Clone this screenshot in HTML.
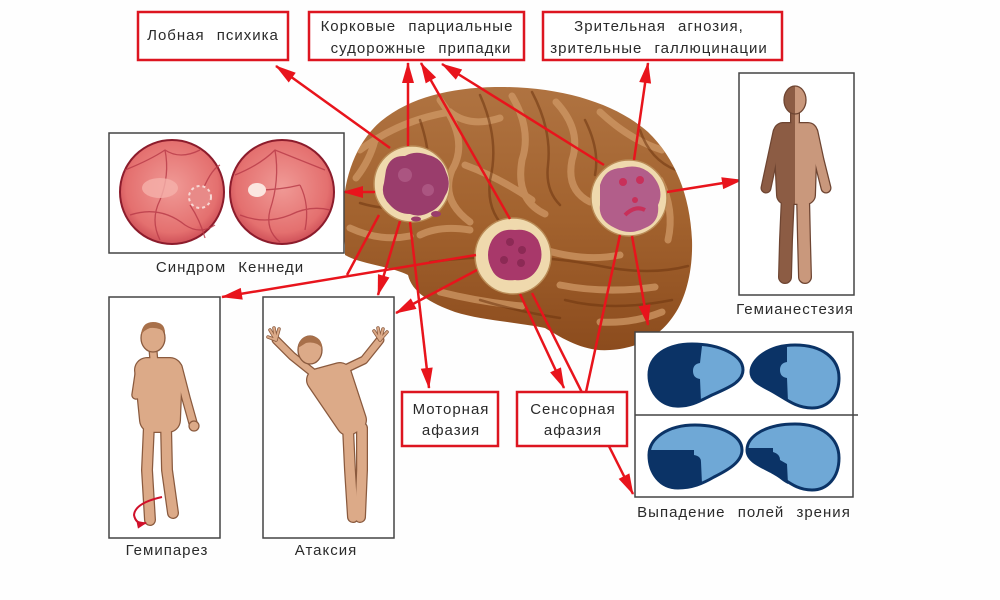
<!DOCTYPE html>
<html><head><meta charset="utf-8"><style>
html,body{margin:0;padding:0;background:#fff;}
svg{display:block;}
text{font-family:"Liberation Sans","DejaVu Sans",sans-serif;font-size:15px;fill:#2a2a2a;letter-spacing:1px;word-spacing:7px;}
</style></head><body>
<svg width="1000" height="600" viewBox="0 0 1000 600" xmlns="http://www.w3.org/2000/svg">
<defs>
<marker id="ah" markerUnits="userSpaceOnUse" markerWidth="21" markerHeight="13" refX="20" refY="6.5" orient="auto" style="overflow:visible"><path d="M0,0.5 L21,6.5 L0,12.5 Z" fill="#e8141c"/></marker>
<marker id="ahs" markerUnits="userSpaceOnUse" markerWidth="10" markerHeight="8" refX="9" refY="4" orient="auto" style="overflow:visible"><path d="M0,0 L10,4 L0,8 Z" fill="#d0102a"/></marker>
<linearGradient id="bgr" x1="0" y1="0" x2="0" y2="1">
<stop offset="0" stop-color="#b07442"/><stop offset="0.5" stop-color="#a2622e"/><stop offset="1" stop-color="#8a4a1c"/>
</linearGradient>
<clipPath id="bc"><path d="M345,245 C338,200 348,150 380,122 C410,97 450,88 495,87 C560,86 615,103 648,132 C675,158 690,195 692,240 C693,270 686,300 672,318 C660,335 640,348 610,350 C585,352 565,340 545,328 C515,322 480,320 455,312 C430,303 412,292 408,275 C390,266 360,264 345,255 Z"/></clipPath>
<radialGradient id="fg" cx="0.5" cy="0.45" r="0.55"><stop offset="0" stop-color="#f09a96"/><stop offset="0.8" stop-color="#e4706f"/><stop offset="1" stop-color="#cf5058"/></radialGradient>
<clipPath id="lh"><rect x="700" y="70" width="95" height="230"/></clipPath>
<clipPath id="rh"><rect x="795" y="70" width="95" height="230"/></clipPath>
</defs>

<rect width="1000" height="600" fill="#fefefe"/>

<!-- Brain -->
<g clip-path="url(#bc)">
<rect x="330" y="80" width="370" height="280" fill="url(#bgr)"/>
<g fill="none" stroke="#cf9866" stroke-width="7" stroke-linecap="round" opacity="0.75">
<path d="M360,150 Q400,120 450,112 Q470,128 500,118"/>
<path d="M440,100 Q470,140 452,170 Q440,200 470,222"/>
<path d="M512,96 Q532,130 522,160 Q515,200 545,214"/>
<path d="M556,102 Q582,130 572,160 Q566,190 590,202"/>
<path d="M600,112 Q630,140 662,150"/>
<path d="M350,228 Q380,242 410,236"/>
<path d="M356,178 Q370,160 375,140"/>
<path d="M465,165 Q500,178 532,200"/>
<path d="M545,250 Q585,262 620,255"/>
<path d="M560,285 Q605,294 655,287"/>
<path d="M440,292 Q480,302 522,306"/>
<path d="M600,322 Q632,324 662,312"/>
<path d="M660,180 Q675,210 668,240"/>
<path d="M420,235 Q440,225 470,230"/>
</g>
<g fill="none" stroke="#6e3510" stroke-width="2.5" stroke-linecap="round" opacity="0.55">
<path d="M480,95 Q500,140 490,180 Q485,220 520,238"/>
<path d="M532,92 Q552,130 548,165 Q545,190 560,205"/>
<path d="M360,203 Q390,212 420,206"/>
<path d="M430,262 Q520,250 600,266 Q650,276 688,266"/>
<path d="M565,300 Q612,312 672,300"/>
<path d="M585,120 Q600,150 595,175"/>
<path d="M420,120 Q430,150 428,170"/>
<path d="M480,300 Q520,312 560,318"/>
<path d="M640,130 Q650,160 676,170"/>
</g>
</g>

<!-- Tumor circles -->
<circle cx="412" cy="184" r="38" fill="#efd9ad" stroke="#b98a55" stroke-width="1.5"/>
<path d="M386,170 Q390,155 405,156 Q415,150 428,155 Q442,158 446,172 Q452,185 445,196 Q440,208 430,212 Q420,218 410,214 Q398,214 390,205 Q380,195 384,183 Z" fill="#9a3d6c"/>
<circle cx="405" cy="175" r="7" fill="#b2608a" opacity="0.7"/><circle cx="428" cy="190" r="6" fill="#b2608a" opacity="0.7"/>
<ellipse cx="436" cy="214" rx="5" ry="3" fill="#9a3d6c"/><ellipse cx="416" cy="219" rx="5" ry="2.5" fill="#9a3d6c"/>

<circle cx="513" cy="256" r="38" fill="#efd9ad" stroke="#b98a55" stroke-width="1.5"/>
<path d="M492,240 Q500,228 515,230 Q530,228 538,240 Q545,255 538,268 Q530,282 515,280 Q498,282 492,270 Q484,255 492,240 Z" fill="#a8386a"/>
<circle cx="510" cy="242" r="4" fill="#8c2a55"/><circle cx="522" cy="250" r="4" fill="#8c2a55"/><circle cx="504" cy="260" r="4" fill="#8c2a55"/><circle cx="521" cy="263" r="4" fill="#8c2a55"/>

<circle cx="629" cy="198" r="38" fill="#efd9ad" stroke="#b98a55" stroke-width="1.5"/>
<path d="M600,185 Q605,168 622,168 Q640,163 652,175 Q665,190 658,205 Q660,222 645,228 Q630,236 615,228 Q598,220 600,205 Z" fill="#b25e8a"/>
<circle cx="623" cy="182" r="4" fill="#c8305a"/><circle cx="640" cy="180" r="4" fill="#c8305a"/><circle cx="635" cy="200" r="3" fill="#c8305a"/><path d="M625,215 Q635,205 645,210" stroke="#c8305a" stroke-width="4" fill="none"/>

<!-- Arrows -->
<g stroke="#e8141c" stroke-width="2.5" fill="none">
<line x1="390" y1="148" x2="276" y2="66" marker-end="url(#ah)"/>
<line x1="408" y1="146" x2="408" y2="63" marker-end="url(#ah)"/>
<line x1="375" y1="192" x2="343" y2="192" marker-end="url(#ah)"/>
<line x1="379" y1="215" x2="347" y2="275"/>
<line x1="476" y1="255" x2="222" y2="297" marker-end="url(#ah)"/>
<line x1="400" y1="221" x2="378" y2="295" marker-end="url(#ah)"/>
<line x1="410" y1="222" x2="429" y2="388" marker-end="url(#ah)"/>
<line x1="510" y1="219" x2="421" y2="63" marker-end="url(#ah)"/>
<line x1="477" y1="270" x2="396" y2="313" marker-end="url(#ah)"/>
<line x1="520" y1="294" x2="564" y2="388" marker-end="url(#ah)"/>
<line x1="532" y1="293" x2="633" y2="494" marker-end="url(#ah)"/>
<line x1="620" y1="235" x2="586" y2="392"/>
<line x1="604" y1="165" x2="442" y2="64" marker-end="url(#ah)"/>
<line x1="634" y1="160" x2="648" y2="63" marker-end="url(#ah)"/>
<line x1="667" y1="192" x2="742" y2="180" marker-end="url(#ah)"/>
<line x1="632" y1="236" x2="648" y2="325" marker-end="url(#ah)"/>
</g>

<!-- Red label boxes -->
<g fill="#fff" stroke="#dd1520" stroke-width="2.5">
<rect x="138" y="12" width="150" height="48"/>
<rect x="309" y="12" width="215" height="48"/>
<rect x="543" y="12" width="239" height="48"/>
<rect x="402" y="392" width="96" height="54"/>
<rect x="517" y="392" width="110" height="54"/>
</g>
<text x="213" y="40" text-anchor="middle">Лобная психика</text>
<text x="417" y="31" text-anchor="middle">Корковые парциальные</text>
<text x="421" y="53" text-anchor="middle">судорожные припадки</text>
<text x="659" y="31" text-anchor="middle">Зрительная агнозия,</text>
<text x="659" y="53" text-anchor="middle">зрительные галлюцинации</text>
<text x="451" y="414" text-anchor="middle">Моторная</text>
<text x="451" y="435" text-anchor="middle">афазия</text>
<text x="573" y="414" text-anchor="middle">Сенсорная</text>
<text x="573" y="435" text-anchor="middle">афазия</text>

<!-- Kennedy box -->
<rect x="109" y="133" width="235" height="120" fill="#fff" stroke="#444" stroke-width="1.5"/>
<circle cx="172" cy="192" r="52" fill="url(#fg)" stroke="#8c1c2c" stroke-width="2"/>
<circle cx="282" cy="192" r="52" fill="url(#fg)" stroke="#8c1c2c" stroke-width="2"/>
<g fill="none" stroke="#b83a48" stroke-width="1.3" opacity="0.8">
<path d="M125,170 Q150,160 165,150 Q180,160 200,150"/><path d="M130,215 Q160,205 185,225 Q200,235 215,225"/>
<path d="M165,150 Q170,175 160,200 Q150,220 160,240"/><path d="M200,197 Q210,170 220,165"/><path d="M190,205 Q200,220 205,238"/>
<path d="M235,175 Q260,165 275,150 Q300,160 325,170"/><path d="M240,215 Q265,225 290,215 Q310,205 330,210"/>
<path d="M257,190 Q280,190 300,185"/><path d="M275,150 Q280,180 270,210 Q265,230 280,242"/><path d="M300,185 Q310,205 305,230"/>
</g>
<ellipse cx="160" cy="188" rx="18" ry="10" fill="#f5b0aa" opacity="0.8"/>
<circle cx="200" cy="197" r="11" fill="#e88a88" stroke="#f7d8d4" stroke-width="2" stroke-dasharray="3 3"/>
<ellipse cx="257" cy="190" rx="9" ry="7" fill="#fbe6e0"/>
<text x="230" y="272" text-anchor="middle">Синдром Кеннеди</text>

<!-- Hemiparesis -->
<rect x="109" y="297" width="111" height="241" fill="#fff" stroke="#444" stroke-width="1.5"/>
<g fill="none" stroke-linecap="round" stroke-linejoin="round">
<g stroke="#8a5a3e">
<path d="M153,350 L154,362" stroke-width="9"/>
<path d="M178,367 L186,398 L193,423" stroke-width="9.5"/>
<path d="M140,368 L136,395 L163,390" stroke-width="9.5"/>
<path d="M149,425 L147,470 L150,520" stroke-width="12"/>
<path d="M166,425 L167,470 L173,513" stroke-width="12"/>
<path d="M147,370 L170,370 L168,420 L152,420 Z" stroke-width="26"/>
</g>
<g stroke="#dcaa88">
<path d="M153,350 L154,362" stroke-width="6.5"/>
<path d="M178,367 L186,398 L193,423" stroke-width="7"/>
<path d="M140,368 L136,395 L163,390" stroke-width="7"/>
<path d="M149,425 L147,470 L150,520" stroke-width="9.5"/>
<path d="M166,425 L167,470 L173,513" stroke-width="9.5"/>
<path d="M147,370 L170,370 L168,420 L152,420 Z" stroke-width="23.5" fill="#dcaa88"/>
</g>
</g>
<circle cx="194" cy="426" r="5" fill="#dcaa88" stroke="#8a5a3e" stroke-width="1.2"/>
<ellipse cx="153" cy="338" rx="12" ry="14" fill="#dcaa88" stroke="#8a5a3e" stroke-width="1.3"/>
<path d="M141,335 Q142,322 153,322 Q165,322 165,333 Q160,327 150,328 Q144,330 141,335 Z" fill="#a8704a"/>
<path d="M162,497 Q135,503 134,515 Q136,525 146,523" fill="none" stroke="#d0102a" stroke-width="2" marker-end="url(#ahs)"/>
<text x="167" y="555" text-anchor="middle">Гемипарез</text>

<!-- Ataxia -->
<rect x="263" y="297" width="131" height="241" fill="#fff" stroke="#444" stroke-width="1.5"/>
<g fill="none" stroke-linecap="round" stroke-linejoin="round">
<g stroke="#8a5a3e">
<path d="M312,372 L292,356 L276,340" stroke-width="9"/>
<path d="M343,370 L364,360 L380,340" stroke-width="9"/>
<path d="M348,428 L350,470 L353,517" stroke-width="12"/>
<path d="M362,428 L362,470 L360,517" stroke-width="12"/>
<path d="M318,380 L340,374 L355,420 L348,424 Z" stroke-width="24"/>
</g>
<g stroke="#dcaa88">
<path d="M312,372 L292,356 L276,340" stroke-width="6.5"/>
<path d="M343,370 L364,360 L380,340" stroke-width="6.5"/>
<path d="M348,428 L350,470 L353,517" stroke-width="9.5"/>
<path d="M362,428 L362,470 L360,517" stroke-width="9.5"/>
<path d="M318,380 L340,374 L355,420 L348,424 Z" stroke-width="21.5" fill="#dcaa88"/>
</g>
<g stroke="#8a5a3e" stroke-width="3.5"><path d="M276,340 L270,330 M276,340 L274,328 M276,340 L279,329 M276,340 L268,337 M380,340 L378,328 M380,340 L383,329 M380,340 L387,332 M380,340 L374,331"/></g>
<g stroke="#dcaa88" stroke-width="2"><path d="M276,340 L270,330 M276,340 L274,328 M276,340 L279,329 M276,340 L268,337 M380,340 L378,328 M380,340 L383,329 M380,340 L387,332 M380,340 L374,331"/></g>
</g>
<ellipse cx="310" cy="350" rx="12" ry="14" fill="#dcaa88" stroke="#8a5a3e" stroke-width="1.3"/>
<path d="M298,348 Q300,335 311,336 Q322,337 322,348 Q316,341 306,343 Z" fill="#a8704a"/>
<text x="326" y="555" text-anchor="middle">Атаксия</text>

<!-- Hemianesthesia -->
<rect x="739" y="73" width="115" height="222" fill="#fff" stroke="#444" stroke-width="1.5"/>
<g fill="none" stroke-linecap="round" stroke-linejoin="round" stroke="#6e4532">
<path d="M795,110 L795,122" stroke-width="10"/>
<path d="M778,132 L772,160 L766,188" stroke-width="11"/>
<path d="M813,132 L819,160 L826,188" stroke-width="11"/>
<path d="M788,195 L786,240 L785,277" stroke-width="14"/>
<path d="M803,195 L804,240 L805,277" stroke-width="14"/>
<path d="M783,132 L808,132 L806,195 L786,195 Z" stroke-width="20"/>
</g>
<g clip-path="url(#lh)">
<g fill="none" stroke-linecap="round" stroke-linejoin="round" stroke="#8c5c44">
<path d="M795,110 L795,122" stroke-width="7.5"/>
<path d="M778,132 L772,160 L766,188" stroke-width="8.5"/>
<path d="M788,195 L786,240 L785,277" stroke-width="11.5"/>
<path d="M783,132 L808,132 L806,195 L786,195 Z" stroke-width="17.5" fill="#8c5c44"/>
</g>
<ellipse cx="795" cy="100" rx="11" ry="14" fill="#8c5c44"/>
</g>
<g clip-path="url(#rh)">
<g fill="none" stroke-linecap="round" stroke-linejoin="round" stroke="#c9987c">
<path d="M795,110 L795,122" stroke-width="7.5"/>
<path d="M813,132 L819,160 L826,188" stroke-width="8.5"/>
<path d="M803,195 L804,240 L805,277" stroke-width="11.5"/>
<path d="M783,132 L808,132 L806,195 L786,195 Z" stroke-width="17.5" fill="#c9987c"/>
</g>
<ellipse cx="795" cy="100" rx="11" ry="14" fill="#c9987c"/>
</g>
<ellipse cx="795" cy="100" rx="11" ry="14" fill="none" stroke="#6e4532" stroke-width="1.3"/>
<text x="795" y="314" text-anchor="middle">Гемианестезия</text>

<!-- Visual fields -->
<rect x="635" y="332" width="218" height="165" fill="#fff" stroke="#444" stroke-width="1.5"/>
<line x1="635" y1="415" x2="858" y2="415" stroke="#444" stroke-width="1.5"/>
<!-- top-left -->
<path d="M649,375 C649,355 668,344 692,344 C720,344 743,355 743,370 C743,382 728,388 712,395 C700,401 690,407 676,406 C660,405 649,392 649,375 Z" fill="#6fa8d6" stroke="#0b3366" stroke-width="3"/>
<path d="M692,344 C668,344 649,355 649,375 C649,392 660,405 676,406 C686,406 694,404 701,401 L700,379 Q693,378 693,371 Q693,364 700,363 L702,346 Q697,344 692,344 Z" fill="#0b3366"/>
<!-- top-right -->
<path d="M751,372 C751,360 768,345 795,345 C822,345 839,358 839,378 C839,397 827,408 812,408 C795,408 785,398 770,390 C758,384 751,380 751,372 Z" fill="#6fa8d6" stroke="#0b3366" stroke-width="3"/>
<path d="M751,372 C751,360 768,345 787,345.5 L787,362 Q780,363 780,370 Q780,377 787,378 L788,402 C781,398 778,394 770,390 C758,384 751,380 751,372 Z" fill="#0b3366"/>
<!-- bottom-left -->
<path d="M649,455 C649,438 668,425 695,425 C722,425 742,436 742,450 C742,462 728,470 714,477 C702,484 692,488 678,488 C660,488 649,473 649,455 Z" fill="#6fa8d6" stroke="#0b3366" stroke-width="3"/>
<path d="M650,450 L694,450 L694,455 Q701,456 701,462 L702,484 C695,487 688,488 678,488 C660,488 649,473 649,455 Z" fill="#0b3366"/>
<!-- bottom-right -->
<path d="M747,450 C747,436 766,424 795,424 C822,424 839,438 839,458 C839,478 827,490 812,490 C795,490 787,480 772,472 C758,465 747,460 747,450 Z" fill="#6fa8d6" stroke="#0b3366" stroke-width="3"/>
<path d="M748,448 L773,448 L773,452 Q780,454 780,460 L787,464 L788,484 C782,481 778,477 772,472 C758,465 747,460 747,450 Z" fill="#0b3366"/>
<text x="744" y="517" text-anchor="middle">Выпадение полей зрения</text>
</svg>
</body></html>
